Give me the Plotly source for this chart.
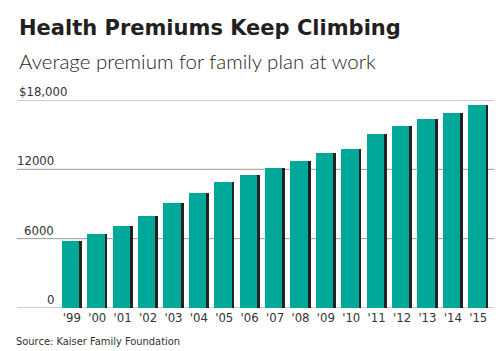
import plotly.graph_objects as go

years = ["'99", "'00", "'01", "'02", "'03", "'04", "'05", "'06", "'07", "'08",
         "'09", "'10", "'11", "'12", "'13", "'14", "'15"]
premiums = [5791, 6438, 7061, 8003, 9068, 9950, 10880, 11480, 12106, 12680,
            13375, 13770, 15073, 15745, 16351, 16834, 17545]
y_ticks = [0, 6000, 12000, 18000]
y_tick_labels = ["0", "6000", "12000", "$18,000"]

TEAL = "#00a89a"
SHADOW = "#222222"
GRID = "#9a9a9a"
COND = "DejaVu Sans Condensed, sans-serif"
TXT = "#333333"

# plot area: x 17..494, y 100..308 px
def py(p):
    return (308 - p) / 208.0

fig = go.Figure()
fig.add_trace(go.Bar(x=years, y=premiums, marker=dict(color=SHADOW, line=dict(width=0)),
                     offset=-0.4, width=0.80, hoverinfo="skip"))
fig.add_trace(go.Bar(x=years, y=premiums, marker=dict(color=TEAL, line=dict(width=0)),
                     offset=-0.4, width=0.69))

for v in y_ticks:
    fig.add_shape(type="line", xref="paper", yref="y", x0=0, x1=1, y0=v, y1=v,
                  line=dict(color=GRID, width=1), layer="below")

for v, t in zip(y_ticks, y_tick_labels):
    if t.startswith("$"):
        fig.add_annotation(x=0, xref="paper", xanchor="left", y=v, yref="y",
                           yanchor="bottom", text=t, showarrow=False,
                           font=dict(family=COND, size=13, color=TXT), yshift=-1)
    else:
        fig.add_annotation(x=(56 - 17) / 477, xref="paper", xanchor="right", y=v, yref="y",
                           yanchor="bottom", text=t, showarrow=False,
                           font=dict(family=COND, size=13, color=TXT), yshift=-1)

fig.add_annotation(xref="paper", yref="paper", x=0, xanchor="left",
                   y=py(42), yanchor="bottom",
                   text="<b>Health Premiums Keep Climbing</b>", showarrow=False,
                   font=dict(family="DejaVu Sans", size=21, color="#231f20"))
fig.add_annotation(xref="paper", yref="paper", x=0, xanchor="left",
                   y=py(75), yanchor="bottom",
                   text="Average premium for family plan at work", showarrow=False,
                   font=dict(family="Lato", size=20.5, color="#231f20", weight=300))
fig.add_annotation(xref="paper", yref="paper", x=-3 / 477, xanchor="left",
                   y=py(350), yanchor="bottom",
                   text="Source: Kaiser Family Foundation", showarrow=False,
                   font=dict(family=COND, size=11, color=TXT))

fig.update_layout(
    width=500, height=351,
    margin=dict(l=17, r=6, t=100, b=43),
    paper_bgcolor="white", plot_bgcolor="white",
    barmode="overlay", showlegend=False, bargap=0,
    xaxis=dict(type="category", range=[-2.16, 16.62], showgrid=False, zeroline=False,
               showline=False, ticks="", tickfont=dict(family=COND, size=13, color=TXT),
               fixedrange=True),
    yaxis=dict(range=[0, 18000], showgrid=False, zeroline=False, showline=False,
               showticklabels=False, fixedrange=True),
)

fig.write_html("out.html")
